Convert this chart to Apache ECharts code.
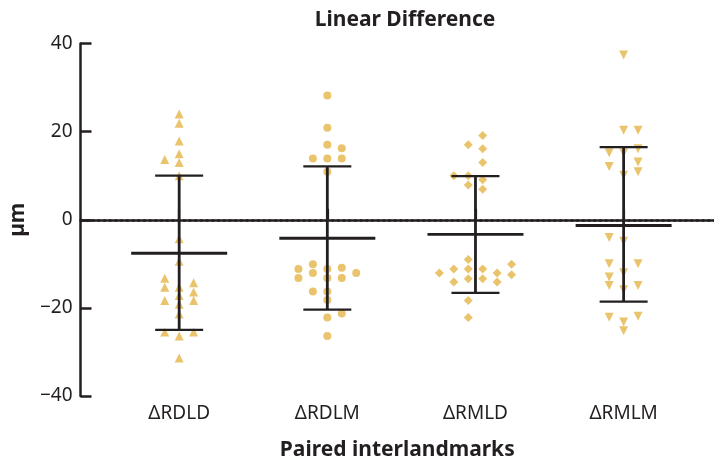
<!DOCTYPE html>
<html>
<head>
<meta charset="utf-8">
<script src="https://cdn.jsdelivr.net/npm/echarts@6/dist/echarts.min.js"></script>
<style>
html,body{margin:0;padding:0;background:#fff;}
#chart{width:714px;height:466px;}
</style>
</head>
<body>
<div id="chart"></div>
<script>
// ---- Data ----
var categories = ['\u0394RDLD', '\u0394RDLM', '\u0394RMLD', '\u0394RMLM'];
var yTicks = [-40, -20, 0, 20, 40];

var valsRDLD = [24.0, 21.9, 17.9, 15.0, 13.7, 13.0, 10.0, -4.3, -9.4, -13.3, -14.3, -15.3, -15.3, -16.4, -17.2, -18.3, -18.3, -19.2, -21.4, -25.5, -25.5, -26.4, -31.4];
var laneRDLD = [0, 0, 0, 0, -1, 0, 0, 0, 0, -1, 1, -1, 0, 1, 0, -1, 1, 0, 0, -1, 1, 0, 0];

var valsRDLM = [28.2, 20.9, 17.0, 16.2, 13.9, 13.9, 13.9, 10.9, -10.1, -11.2, -11.2, -10.9, -12.1, -12.1, -13.2, -13.2, -13.2, -16.3, -16.3, -18.2, -21.3, -22.2, -26.4];
var laneRDLM = [0, 0, 0, 1, -1, 0, 1, 0, -1, -2, 0, 1, -1, 2, -2, 0, 1, -1, 0, 0, 1, 0, 0];

var valsRMLD = [19.1, 17.0, 16.1, 13.0, 10.0, 10.0, 9.1, 7.9, 6.9, -9.0, -10.1, -11.2, -11.2, -11.2, -12.1, -12.1, -12.5, -13.4, -13.4, -14.1, -14.1, -18.3, -22.2];
var laneRMLD = [0.5, -0.5, 0.5, 0.5, -1.5, -0.5, 0.5, -0.5, 0.5, -0.5, 2.5, -1.5, -0.5, 0.5, -2.5, 1.5, 2.5, -0.5, 0.5, -1.5, 1.5, -0.5, -0.5];

var valsRMLM = [37.4, 20.3, 20.3, 16.1, 15.2, 15.2, 13.1, 12.1, 10.9, 10.1, -4.0, -4.9, -10.0, -10.0, -12.0, -13.0, -14.9, -14.9, -15.9, -22.1, -21.9, -23.2, -25.2];
var laneRMLM = [0, 0, 1, 1, -1, 0, 1, -1, 1, 0, -1, 0, -1, 1, 0, -1, -1, 1, 0, -1, 1, 0, 0];

var means = [-7.6, -4.2, -3.3, -1.3];
var sdUpper = [10.0, 12.1, 9.9, 16.5];
var sdLower = [-25.0, -20.4, -16.6, -18.6];

// ---- Build ----
var LANE = 0.0975;
var textColor = '#231f20';
var dotColor = '#E4B548';
var fontFam = '"Noto Sans", "Open Sans", sans-serif';

function pts(vals, lanes, idx) {
  return vals.map(function (v, i) { return [idx + 1 + lanes[i] * LANE, v]; });
}

var groups = [
  {vals: valsRDLD, lanes: laneRDLD, symbol: 'triangle', rot: 0},
  {vals: valsRDLM, lanes: laneRDLM, symbol: 'circle', rot: 0},
  {vals: valsRMLD, lanes: laneRMLD, symbol: 'diamond', rot: 0},
  {vals: valsRMLM, lanes: laneRMLM, symbol: 'triangle', rot: 180}
];

var series = groups.map(function (g, i) {
  return {
    type: 'scatter',
    data: pts(g.vals, g.lanes, i),
    symbol: g.symbol,
    symbolRotate: g.rot,
    symbolSize: g.symbol === 'circle' ? 8 : 9,
    itemStyle: {color: dotColor},
    z: 2,
    silent: true
  };
});

series[0].markLine = {
  silent: true,
  symbol: 'none',
  label: {show: false},
  lineStyle: {color: textColor, width: 2.5, type: [2.5, 3.2]},
  data: [{yAxis: 0}],
  z: 1
};

var statData = means.map(function (m, i) { return [i + 1, m, sdLower[i], sdUpper[i]]; });

series.push({
  type: 'custom',
  data: statData,
  z: 5,
  silent: true,
  renderItem: function (params, api) {
    var x = api.value(0);
    var pm = api.coord([x, api.value(1)]);
    var pl = api.coord([x, api.value(2)]);
    var pu = api.coord([x, api.value(3)]);
    return {
      type: 'group',
      children: [
        {type: 'line', shape: {x1: pm[0], y1: pu[1], x2: pm[0], y2: pl[1]}, style: {stroke: textColor, lineWidth: 2.8}},
        {type: 'line', shape: {x1: pm[0] - 48, y1: pm[1], x2: pm[0] + 48, y2: pm[1]}, style: {stroke: textColor, lineWidth: 2.8}},
        {type: 'line', shape: {x1: pm[0] - 24, y1: pu[1], x2: pm[0] + 24, y2: pu[1]}, style: {stroke: textColor, lineWidth: 2.2}},
        {type: 'line', shape: {x1: pm[0] - 24, y1: pl[1], x2: pm[0] + 24, y2: pl[1]}, style: {stroke: textColor, lineWidth: 2.2}}
      ]
    };
  }
});

var chart = echarts.init(document.getElementById('chart'), null, {renderer: 'canvas'});
chart.setOption({
  animation: false,
  backgroundColor: '#fff',
  title: {
    text: 'Linear Difference',
    left: 400,
    textAlign: 'center',
    top: 5,
    textStyle: {fontFamily: fontFam, fontSize: 21, fontWeight: 'bold', color: textColor}
  },
  grid: {left: 78, right: 0, top: 43.5, bottom: 68.5, containLabel: false},
  xAxis: {
    type: 'value',
    min: 0.334,
    max: 4.61,
    name: 'Paired interlandmarks',
    nameLocation: 'middle',
    nameGap: 44,
    nameTextStyle: {fontFamily: fontFam, fontSize: 21, fontWeight: 'bold', color: textColor},
    axisLine: {lineStyle: {color: textColor, width: 2.5}},
    axisTick: {show: true, inside: true, length: 11, lineStyle: {color: textColor, width: 2.2}, customValues: [1, 2, 3, 4]},
    axisLabel: {
      customValues: [1, 2, 3, 4],
      margin: 8,
      fontFamily: fontFam, fontSize: 19, color: textColor,
      formatter: function (v) { return categories[Math.round(v) - 1] || ''; }
    },
    splitLine: {show: false}
  },
  yAxis: {
    type: 'value',
    min: yTicks[0],
    max: yTicks[yTicks.length - 1],
    interval: 20,
    name: '\u00b5m',
    nameLocation: 'middle',
    nameRotate: 90,
    nameGap: 48,
    nameTextStyle: {fontFamily: fontFam, fontSize: 21, fontWeight: 'bold', color: textColor},
    axisLine: {show: true, lineStyle: {color: textColor, width: 2.5}},
    axisTick: {show: true, inside: true, length: 11, lineStyle: {color: textColor, width: 2.5}},
    axisLabel: {
      margin: 8,
      fontFamily: fontFam, fontSize: 19, color: textColor,
      formatter: function (v) { return String(v).replace('-', '\u2212'); }
    },
    splitLine: {show: false}
  },
  series: series
});
</script>
</body>
</html>
